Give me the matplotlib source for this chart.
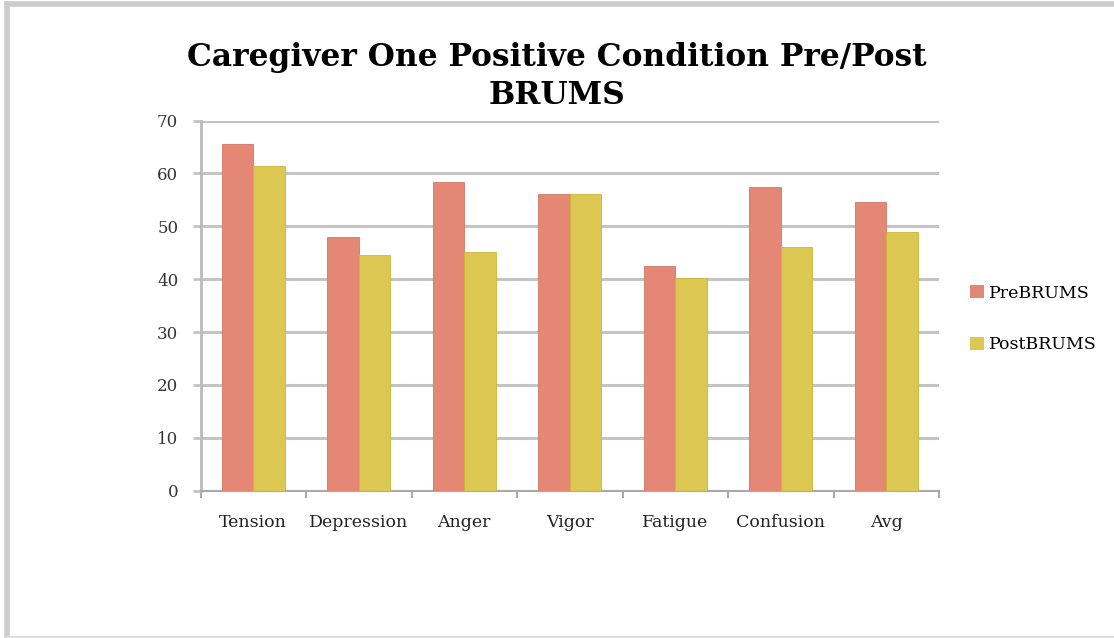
import numpy as np
import matplotlib
matplotlib.use("Agg")
import matplotlib.pyplot as plt
from matplotlib.lines import Line2D
from matplotlib.patches import Patch

categories = ["Tension", "Depression", "Anger", "Vigor", "Fatigue", "Confusion", "Avg"]
pre_brums = [65.6, 48.0, 58.3, 56.2, 42.4, 57.4, 54.6]
post_brums = [61.4, 44.5, 45.2, 56.2, 40.3, 46.1, 48.9]
yticks = [0, 10, 20, 30, 40, 50, 60, 70]

pre_color = "#E48875"
post_color = "#DCC752"
grid_color = "#C4C4C4"

plt.rcParams["font.family"] = "DejaVu Serif"

fig = plt.figure(figsize=(11.14, 6.38), dpi=100)
ax = fig.add_axes([0.180, 0.231, 0.663, 0.580])

x = np.arange(len(categories))
w = 0.3
ax.bar(x - w / 2, pre_brums, w, color=pre_color, edgecolor="#D07868", linewidth=0.6, zorder=3)
ax.bar(x + w / 2, post_brums, w, color=post_color, edgecolor="#CDB53A", linewidth=0.6, zorder=3)

ax.set_xlim(-0.5, len(categories) - 0.5)
ax.set_ylim(0, 70)
ax.set_yticks(yticks)
ax.set_yticklabels([str(v) for v in yticks], fontsize=12, color="#333333")
ax.yaxis.grid(True, color=grid_color, linewidth=2.2, zorder=0)
ax.tick_params(axis="y", length=6, width=2, color=grid_color, pad=10)

# category labels between boundary ticks
ax.set_xticks(np.arange(len(categories) + 1) - 0.5)
ax.set_xticklabels([])
ax.set_xticks(x, minor=True)
ax.set_xticklabels(categories, minor=True, fontsize=12.5, color="#222222")
ax.tick_params(axis="x", which="major", length=5, width=1.5, color="#AAAAAA")
ax.tick_params(axis="x", which="minor", length=0, pad=17)

for side in ["top", "right"]:
    ax.spines[side].set_visible(False)
ax.spines["left"].set_color("#BBBBBB")
ax.spines["left"].set_linewidth(2)
ax.spines["bottom"].set_color("#AAAAAA")
ax.spines["bottom"].set_linewidth(1.5)

fig.text(0.5, 0.910, "Caregiver One Positive Condition Pre/Post", ha="center", va="center",
         fontsize=22.5, fontweight="heavy")
fig.text(0.5, 0.851, "BRUMS", ha="center", va="center", fontsize=22.5, fontweight="heavy")

handles = [Patch(facecolor=pre_color, edgecolor="none"), Patch(facecolor=post_color, edgecolor="none")]
fig.legend(handles, ["PreBRUMS", "PostBRUMS"], loc="center left", bbox_to_anchor=(0.857, 0.50),
           frameon=False, fontsize=12.5, handlelength=0.8, handleheight=0.8, handletextpad=0.3,
           labelspacing=2.0)

# outer frame
fig.add_artist(Line2D([0.006, 0.006], [0.0, 0.994], transform=fig.transFigure, color="#CCCCCC", lw=4))
fig.add_artist(Line2D([0.006, 1.0], [0.994, 0.994], transform=fig.transFigure, color="#CCCCCC", lw=4))
fig.add_artist(Line2D([0.006, 1.0], [0.002, 0.002], transform=fig.transFigure, color="#DDDDDD", lw=2))

fig.savefig("out.png", dpi=100)
